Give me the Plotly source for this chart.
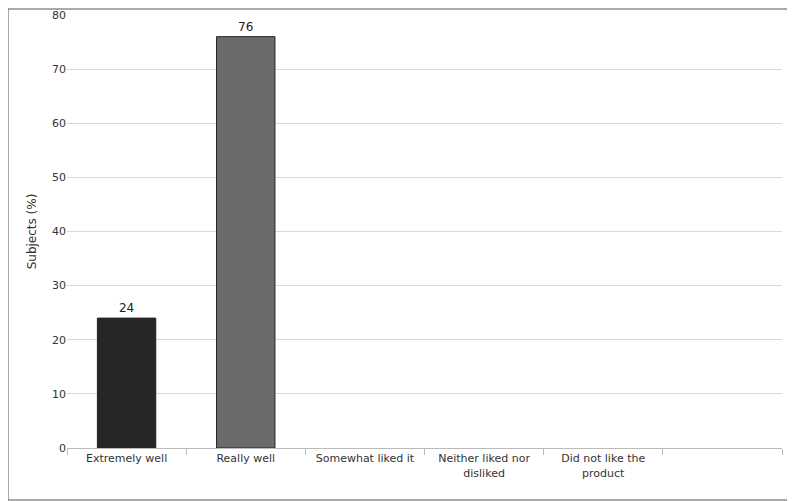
import plotly.graph_objects as go

categories = ["Extremely well", "Really well", "Somewhat liked it", "Neither liked nor<br>disliked", "Did not like the<br>product", " "]
values = [24, 76, None, None, None, None]
labels = ["24", "76", "", "", "", ""]
colors = ["#262626", "#6b6b6b", "#888", "#888", "#888", "#888"]

fig = go.Figure(go.Bar(x=categories, y=values, text=labels, textposition="outside",
                       marker=dict(color=colors, line=dict(color="#222", width=1)),
                       width=0.49, cliponaxis=False,
                       textfont=dict(family="DejaVu Sans", size=12, color="#222")))
fig.update_layout(
    width=787, height=493, paper_bgcolor="white", plot_bgcolor="white",
    margin=dict(l=59, r=13, t=7, b=53, autoexpand=False), showlegend=False,
    font=dict(family="DejaVu Sans", size=11, color="#333"),
    xaxis=dict(tickson="boundaries", ticks="outside", ticklen=6, tickcolor="#bbb",
               showline=True, linecolor="#bbb", showgrid=False, tickangle=0),
    yaxis=dict(range=[0, 80], dtick=10, gridcolor="#d9d9d9", showline=False, zeroline=False,
               title=dict(text="Subjects (%)", font=dict(size=12), standoff=12), ticks=""),
    shapes=[dict(type="rect", xref="paper", yref="paper", x0=-59/715, x1=1+12/715,
                 y0=-52/433, y1=1+6/433, line=dict(color="#555", width=1))],
)
fig.write_html("out.html")
